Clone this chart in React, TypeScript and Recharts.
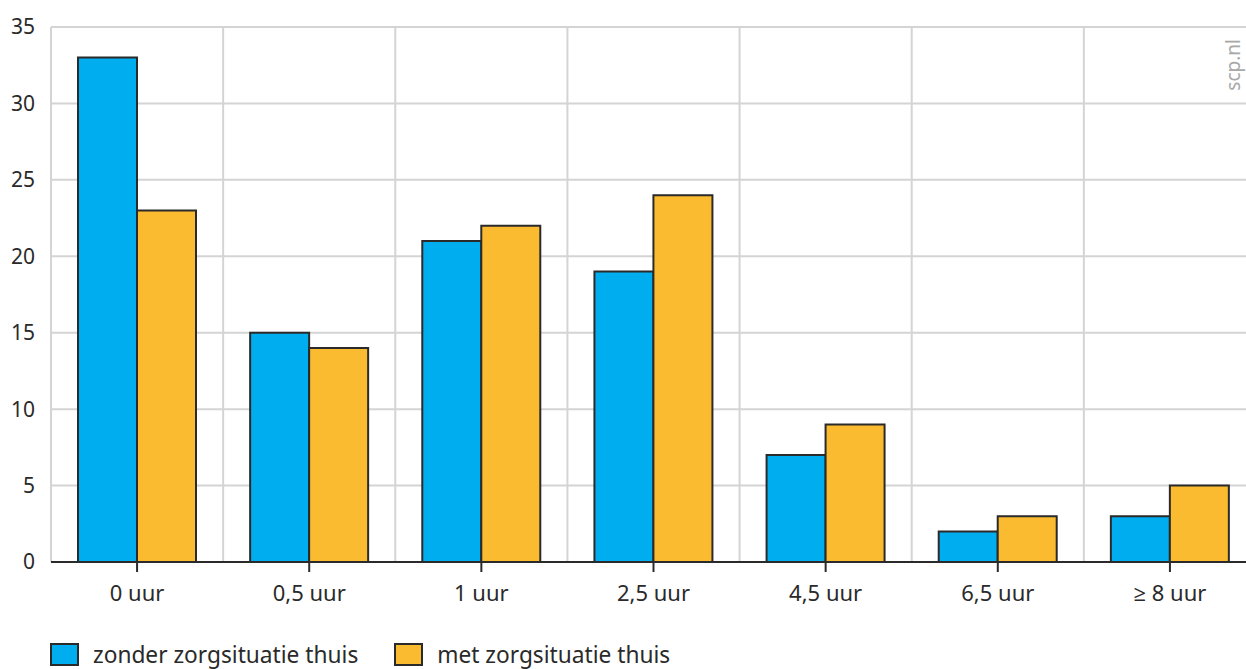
import { Bar, BarChart, CartesianGrid, Legend, XAxis, YAxis } from 'recharts'

const categories = ['0 uur', '0,5 uur', '1 uur', '2,5 uur', '4,5 uur', '6,5 uur', '≥ 8 uur']
const zonderZorg = [33, 15, 21, 19, 7, 2, 3]
const metZorg = [23, 14, 22, 24, 9, 3, 5]
const yTicks = [0, 5, 10, 15, 20, 25, 30, 35]

const BLUE = '#00ADEE'
const ORANGE = '#FBBB30'
const INK = '#2a2a2a'
const GRID = '#d4d4d4'
const FONT = '"Noto Sans", "Open Sans", sans-serif'

const data = categories.map((name, i) => ({
    name,
    zonder: zonderZorg[i],
    met: metZorg[i],
}))

const legendItems = [
    { label: 'zonder zorgsituatie thuis', color: BLUE },
    { label: 'met zorgsituatie thuis', color: ORANGE },
]

const LegendContent = () => (
    <div style={{ display: 'flex', alignItems: 'center', height: 30, fontFamily: FONT, fontSize: 22.7, color: INK }}>
        {legendItems.map((item) => (
            <div key={item.label} style={{ display: 'flex', alignItems: 'center', marginRight: 36 }}>
                <span
                    style={{
                        display: 'inline-block',
                        width: 25,
                        height: 19,
                        background: item.color,
                        border: `2px solid ${INK}`,
                        marginRight: 14,
                    }}
                />
                <span>{item.label}</span>
            </div>
        ))}
    </div>
)

// grid lines sit between the categories, not on the ticks
const categoryBounds = ({ offset }: any) => {
    const step = offset.width / categories.length
    return categories.map((_, i) => offset.left + step * i).concat(offset.left + offset.width)
}

const App = () => {
    return (
        <div style={{ position: 'absolute', left: 0, top: 0, width: 1246, height: 669, overflow: 'hidden', background: '#fff' }}>
            <BarChart
                width={1256}
                height={669}
                data={data}
                margin={{ top: 27, right: 0, left: 0, bottom: 0 }}
                barGap={0}
                barSize={59}
            >
                <CartesianGrid stroke={GRID} strokeWidth={2} verticalCoordinatesGenerator={categoryBounds} />
                <XAxis
                    dataKey="name"
                    height={77}
                    axisLine={{ stroke: INK, strokeWidth: 2 }}
                    tickLine={{ stroke: INK, strokeWidth: 2 }}
                    tickSize={10}
                    tickMargin={13}
                    tick={{ fill: INK, fontSize: 22, fontFamily: FONT }}
                />
                <YAxis
                    width={51}
                    domain={[0, 35]}
                    ticks={yTicks}
                    axisLine={false}
                    tickLine={false}
                    tickSize={0}
                    tickMargin={16}
                    tick={{ fill: INK, fontSize: 21, fontFamily: FONT }}
                />
                <Legend
                    verticalAlign="bottom"
                    align="left"
                    content={<LegendContent />}
                    wrapperStyle={{ left: 50, height: 30 }}
                />
                <Bar dataKey="zonder" fill={BLUE} stroke={INK} strokeWidth={2} isAnimationActive={false} />
                <Bar dataKey="met" fill={ORANGE} stroke={INK} strokeWidth={2} isAnimationActive={false} />
            </BarChart>
            <div
                style={{
                    position: 'absolute',
                    left: 1222,
                    top: 39,
                    writingMode: 'vertical-rl',
                    transform: 'rotate(180deg)',
                    fontFamily: FONT,
                    fontSize: 19,
                    lineHeight: '22px',
                    color: '#a8a8a8',
                    whiteSpace: 'nowrap',
                }}
            >
                scp.nl
            </div>
        </div>
    )
}

export default App
